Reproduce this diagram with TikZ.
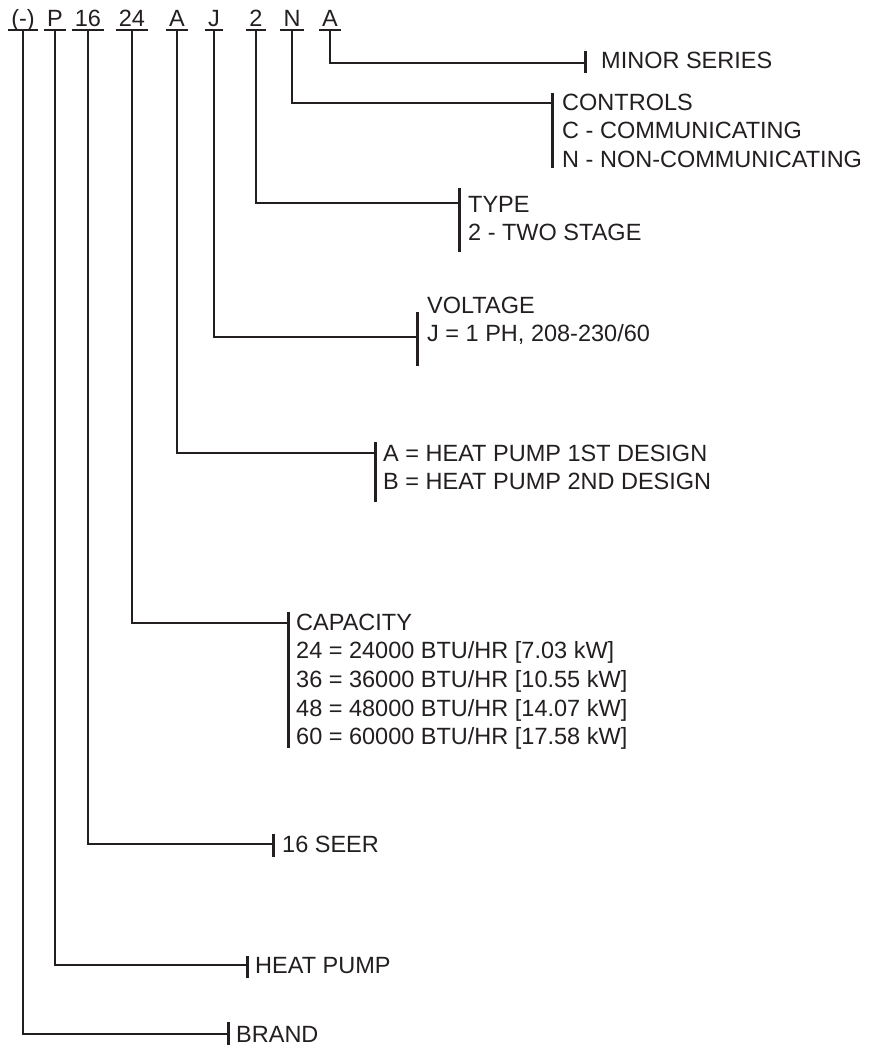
\documentclass[tikz,border=0pt]{standalone}
\usepackage{fontspec}
\setmainfont{Liberation Sans}
\usetikzlibrary{calc}
\definecolor{inkgray}{HTML}{231F20}

\begin{document}
\begin{tikzpicture}[x=1pt, y=-1pt,
  every node/.style={font=\fontsize{23.5}{28.7}\selectfont, inner sep=0pt, align=left, text=inkgray},
  code/.style={anchor=base},
  lab/.style={anchor=base west},
  link/.style={draw=inkgray, line width=2.5pt},
  tick/.style={draw=inkgray, line width=3pt},
  uline/.style={draw=inkgray, line width=2.2pt}]
  \useasboundingbox (0,0) rectangle (891,1057);
  % model number along the top
  \node[code] (brand) at (23,27) {(-)};
  \node[code] (pump) at (55,27) {P};
  \node[code] (seer) at (88,27) {16};
  \node[code] (cap) at (132,27) {24};
  \node[code] (design) at (177,27) {A};
  \node[code] (volt) at (214,27) {J};
  \node[code] (type) at (256,27) {2};
  \node[code] (ctrl) at (292,27) {N};
  \node[code] (minor) at (330,27) {A};
  \foreach \c in {brand,pump,seer,cap,design,volt,type,ctrl,minor}
    \draw[uline] ([xshift=-3pt,yshift=-3pt]\c.base west) -- ([xshift=3pt,yshift=-3pt]\c.base east);
  % where each branch ends
  \coordinate (tminor) at (585,63);
  \coordinate (tctrl) at (552,103);
  \coordinate (ttype) at (459,203);
  \coordinate (tvolt) at (417,337);
  \coordinate (tdesign) at (375,453);
  \coordinate (tcap) at (288,623);
  \coordinate (tseer) at (273,844);
  \coordinate (tpump) at (247,965);
  \coordinate (tbrand) at (228,1034);
  % explanations (placed at the baseline of their last line)
  \node[lab] (lminor) at (601,68) {MINOR SERIES};
  \node[lab] (lctrl) at (562,167.4) {CONTROLS\\C - COMMUNICATING\\N - NON-COMMUNICATING};
  \node[lab] (ltype) at (468,240.7) {TYPE\\2 - TWO STAGE};
  \node[lab] (lvolt) at (427,341.7) {VOLTAGE\\J = 1 PH, 208-230/60};
  \node[lab] (ldesign) at (383,489.7) {A = HEAT PUMP 1ST DESIGN\\B = HEAT PUMP 2ND DESIGN};
  \node[lab] (lcap) at (296,744.8) {CAPACITY\\24 = 24000 BTU/HR [7.03 kW]\\36 = 36000 BTU/HR [10.55 kW]\\48 = 48000 BTU/HR [14.07 kW]\\60 = 60000 BTU/HR [17.58 kW]};
  \node[lab] (lseer) at (282,852) {16 SEER};
  \node[lab] (lpump) at (255,973) {HEAT PUMP};
  \node[lab] (lbrand) at (236,1042) {BRAND};
  % branches
  \foreach \c in {brand,pump,seer,cap,design,volt,type,ctrl,minor}
    \draw[link] ([yshift=-3pt]\c.base) |- (t\c);
  % end ticks
  \draw[tick] (585,51) -- (585,73);
  \draw[tick] (552,93) -- (552,168);
  \draw[tick] (459,188) -- (459,252);
  \draw[tick] (417,312) -- (417,366);
  \draw[tick] (375,442) -- (375,502);
  \draw[tick] (288,612) -- (288,748);
  \draw[tick] (273,834) -- (273,857);
  \draw[tick] (247,956) -- (247,978);
  \draw[tick] (228,1022) -- (228,1045);
\end{tikzpicture}
\end{document}
